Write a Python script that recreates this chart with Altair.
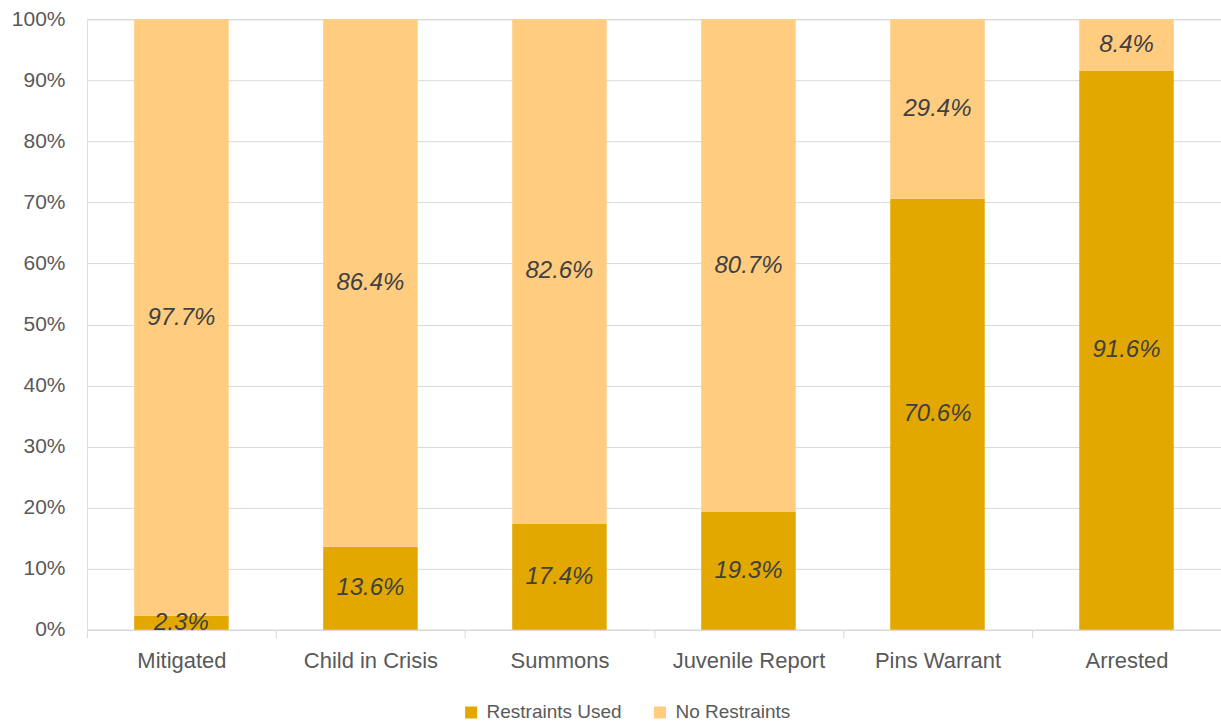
import altair as alt
import pandas as pd

categories = ["Mitigated", "Child in Crisis", "Summons", "Juvenile Report", "Pins Warrant", "Arrested"]
restraints_used = [2.3, 13.6, 17.4, 19.3, 70.6, 91.6]
no_restraints = [97.7, 86.4, 82.6, 80.7, 29.4, 8.4]
series = ["Restraints Used", "No Restraints"]
colors = ["#E2A800", "#FFCC80"]

rows = []
for c, u, n in zip(categories, restraints_used, no_restraints):
    rows.append({"category": c, "series": series[0], "value": u / 100, "ord": 0, "label": f"{u:.1f}%"})
    rows.append({"category": c, "series": series[1], "value": n / 100, "ord": 1, "label": f"{n:.1f}%"})
df = pd.DataFrame(rows)

FONT = "Liberation Sans"

base = alt.Chart(df).transform_stack(
    stack="value", groupby=["category"], as_=["y0", "y1"],
    sort=[alt.SortField("ord", order="ascending")]
).transform_calculate(mid="(datum.y0 + datum.y1) / 2")

xenc = alt.X("category:N", sort=categories, title=None,
             scale=alt.Scale(paddingInner=0, paddingOuter=0),
             axis=alt.Axis(labelAngle=0, labelFontSize=22, labelColor="#595959", labelFont=FONT,
                           labelPadding=13, domainColor="#d9d9d9", tickColor="#d9d9d9",
                           tickBand="extent", tickSize=8, grid=False))

bars = base.mark_bar(width={"band": 0.5}).encode(
    x=xenc,
    y=alt.Y("y0:Q", title=None, scale=alt.Scale(domain=[0, 1], nice=False),
            axis=alt.Axis(format="%", values=[i / 10 for i in range(11)], labelFontSize=21,
                          labelColor="#595959", labelFont=FONT, labelPadding=22,
                          domain=False, ticks=False, gridColor="#d9d9d9")),
    y2="y1:Q",
    color=alt.Color("series:N", sort=series, scale=alt.Scale(domain=series, range=colors),
                    legend=alt.Legend(title=None, orient="none", legendX=375, legendY=684,
                                      direction="horizontal", symbolType="square", symbolSize=144,
                                      symbolStrokeWidth=0, labelFontSize=19, labelColor="#595959",
                                      labelFont=FONT, columnPadding=28, labelOffset=6)),
)

texts = base.mark_text(fontSize=24, fontStyle="italic", color="#404040", font=FONT).encode(
    x=alt.X("category:N", sort=categories),
    y=alt.Y("mid:Q"),
    text="label:N",
)

chart = alt.layer(bars, texts).properties(
    width=1135, height=611,
    autosize=alt.AutoSizeParams(type="none"),
    padding={"left": 87, "top": 19, "right": 0, "bottom": 93},
).configure_view(stroke=None).configure(background="white")

chart.save("out.html", embed_options={"renderer": "svg", "actions": False})
